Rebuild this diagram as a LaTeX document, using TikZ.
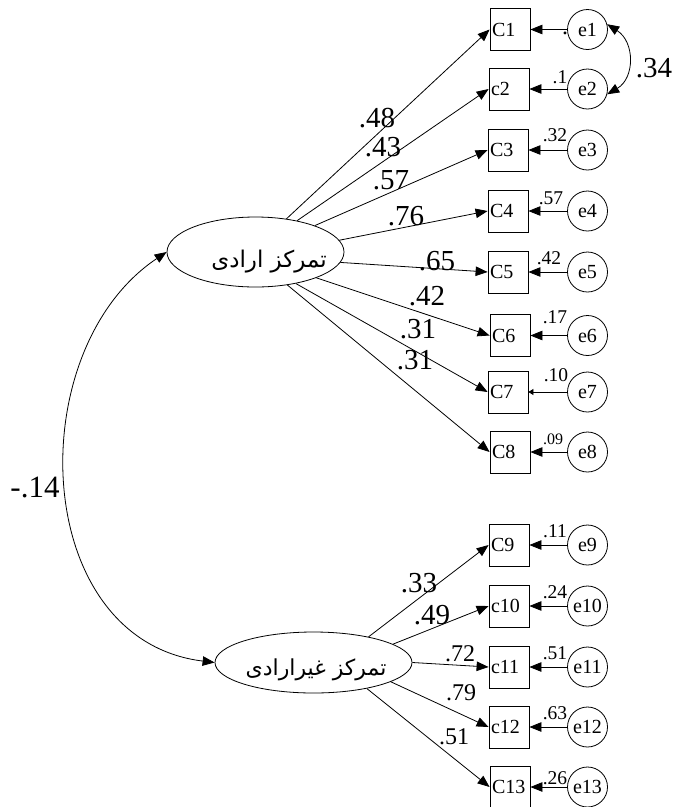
\documentclass[tikz,border=0pt]{standalone}
\usepackage{fontspec}
\setmainfont{Liberation Serif}
\newfontfamily\arabicfont[Script=Arabic]{DejaVu Sans}
\TeXXeTstate=1
\usetikzlibrary{arrows.meta,shapes.geometric}

\begin{document}
\begin{tikzpicture}[x=1pt,y=-1pt,
  obs/.style={draw, line width=0.8pt, text width=36pt, inner xsep=2pt, inner ysep=0pt,
              minimum height=42pt, align=left, font=\fontsize{20}{20}\selectfont},
  err/.style={draw, line width=0.8pt, circle, minimum size=40pt, inner sep=0pt,
              font=\fontsize{20}{20}\selectfont},
  lat/.style={draw, line width=0.8pt, ellipse, inner sep=0pt},
  arr/.style={-{Triangle[length=12pt,width=9.5pt]}, line width=0.8pt},
  dblarr/.style={{Triangle[length=12pt,width=9.5pt]}-{Triangle[length=12pt,width=9.5pt]}, line width=0.8pt},
  big/.style={font=\fontsize{29}{29}\selectfont, inner sep=0pt},
  mid/.style={font=\fontsize{24}{24}\selectfont, inner sep=0pt},
  small/.style={font=\fontsize{19.5}{19.5}\selectfont, inner sep=0pt},
  farsi/.style={font=\arabicfont\fontsize{23}{23}\selectfont, inner sep=0pt}]

\useasboundingbox (0,0) rectangle (675,807);

% latent factors
\node[lat, minimum width=177pt, minimum height=70pt] (f1) at (255.5,252) {};
\node[farsi] (t1) at (269,262) {\beginR تمرکز ارادی\endR};
\node[lat, minimum width=197pt, minimum height=61pt] (f2) at (313.5,662.5) {};
\node[farsi, font=\arabicfont\fontsize{22}{22}\selectfont] (t2) at (316,670) {\beginR تمرکز غیرارادی\endR};

% observed indicators
\node[obs] (C1)  at (510,29.5) {C1};
\node[obs] (C2)  at (509,89)   {c2};
\node[obs] (C3)  at (508,150)  {C3};
\node[obs] (C4)  at (508,211)  {C4};
\node[obs] (C5)  at (508,272)  {C5};
\node[obs] (C6)  at (510,335.5){C6};
\node[obs] (C7)  at (508,392)  {C7};
\node[obs] (C8)  at (510,452)  {C8};
\node[obs] (C9)  at (509,545)  {C9};
\node[obs] (C10) at (509,606)  {c10};
\node[obs] (C11) at (509,667)  {c11};
\node[obs] (C12) at (509,727)  {c12};
\node[obs] (C13) at (510,787)  {C13};

% error terms
\foreach \i/\y in {1/29.5,2/89,3/150,4/211,5/272,6/335.5,7/392,8/452,9/545,10/606,11/667,12/727,13/787}
  \node[err] (e\i) at (587.5,\y) {e\i};

% error paths
\foreach \i in {1,2,3,4,5,6,8,9,10,11,12,13}
  \draw[arr] (e\i.west) -- (C\i.east);
\draw[-{Triangle[length=5pt,width=6pt]}, line width=0.8pt] (e7.west) -- (C7.east);

% loadings of the first factor
\draw[arr] (f1.47.2)  -- (C1.west);
\draw[arr] (f1.37.6)  -- (C2.west);
\draw[arr] (f1.24)    -- (C3.west);
\draw[arr] (f1.8.1)   -- (C4.west);
\draw[arr] (f1.-7.4)  -- (C5.west);
\draw[arr] (f1.-23.6) -- (C6.west);
\draw[arr] (f1.-38)   -- (C7.west);
\draw[arr] (f1.-46.3) -- (C8.west);

% loadings of the second factor
\draw[arr] (f2.25)    -- (C9.west);
\draw[arr] (f2.13.8)  -- (C10.west);
\draw[arr] (f2.0)     -- (C11.west);
\draw[arr] (f2.-14.6) -- (C12.west);
\draw[arr] (f2.-26.8) -- (C13.west);

% covariances
\draw[dblarr] (f1.west) .. controls (20,350) and (30,640) .. (f2.west);
\draw[dblarr] (e1.15) .. controls (635,42) and (635,78) .. (e2.-15);

% loading values
\node[big] (l1) at (377,118) {.48};
\node[big] (l2) at (383,147) {.43};
\node[big] (l3) at (391,180) {.57};
\node[big] (l4) at (406,216) {.76};
\node[big] (l5) at (437,261) {.65};
\node[big] (l6) at (427,296) {.42};
\node[big] (l7) at (418,329) {.31};
\node[big] (l8) at (415,360) {.31};
\node[big] (l9)  at (419,583) {.33};
\node[big] (l10) at (432,615) {.49};
\node[mid] (l11) at (460,654) {.72};
\node[mid] (l12) at (461,693) {.79};
\node[mid] (l13) at (454,737) {.51};

% correlation values
\node[font=\fontsize{31}{31}\selectfont, inner sep=0pt] (r1) at (35,487) {-.14};
\node[big] (r2) at (654,68) {.34};

% error values
\node[font=\fontsize{24}{24}\selectfont, inner sep=0pt, anchor=base] (v1) at (565,34) {.};
\node[small] (v2)  at (560,77)  {.1};
\node[small] (v3)  at (555,135) {.32};
\node[small] (v4)  at (551,198) {.57};
\node[small] (v5)  at (549,258) {.42};
\node[small] (v6)  at (555,317) {.17};
\node[small] (v7)  at (556,375) {.10};
\node[font=\fontsize{16}{16}\selectfont, inner sep=0pt] (v8) at (553,439) {.09};
\node[small] (v9)  at (555,531) {.11};
\node[small] (v10) at (555,592) {.24};
\node[small] (v11) at (555,653) {.51};
\node[small] (v12) at (555,713) {.63};
\node[small] (v13) at (555,778) {.26};
\end{tikzpicture}
\end{document}
